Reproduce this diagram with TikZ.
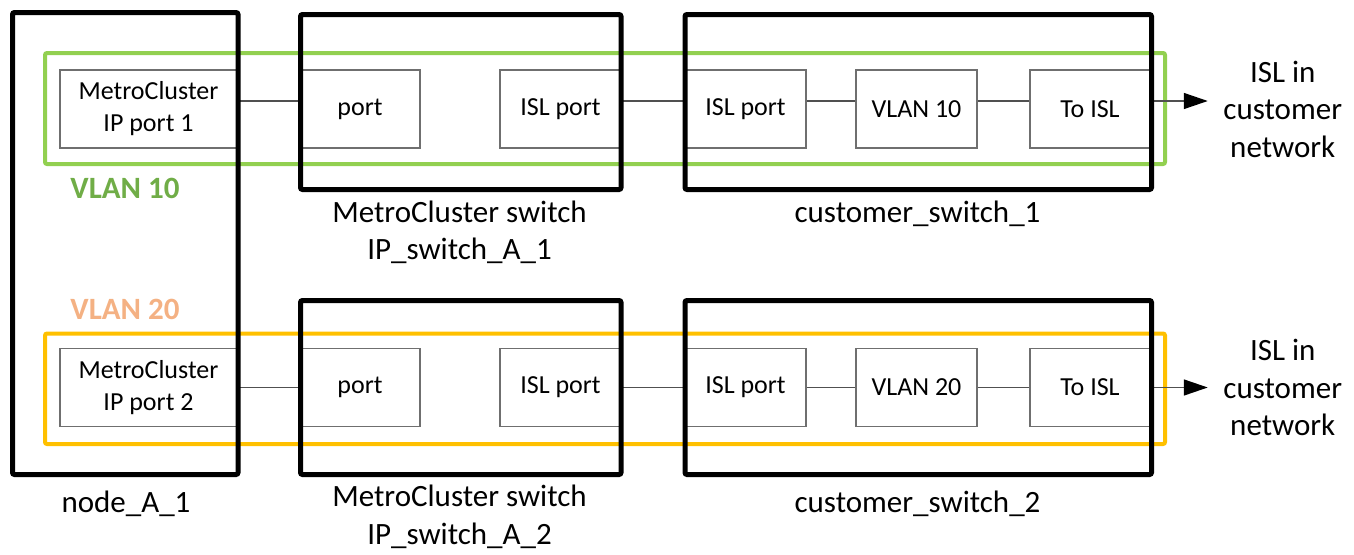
\documentclass[tikz,border=0pt]{standalone}
\usepackage{fontspec}
\setmainfont{Carlito}
\usetikzlibrary{arrows.meta}
\definecolor{vgreen}{HTML}{92D050}
\definecolor{vgreentext}{HTML}{70AD47}
\definecolor{vorange}{HTML}{FFC000}
\definecolor{vorangetext}{HTML}{F4B183}
\definecolor{boxgrey}{HTML}{6F6F6F}
\definecolor{linkgrey}{HTML}{505050}
\tikzset{
  portbox/.style={draw=boxgrey, line width=1.5, minimum height=78, inner sep=0,
    align=center, font=\fontsize{26}{32}\selectfont},
  devbox/.style={draw, line width=5, rounded corners=2},
  vlanbox/.style={line width=4, rounded corners=2},
  link/.style={draw=linkgrey, line width=1.5},
  caption/.style={anchor=base, align=center, inner sep=0, font=\fontsize{31}{37.5}\selectfont},
  vlanlabel/.style={anchor=base, inner sep=0, font=\fontsize{31}{37.5}\selectfont\bfseries}
}
\begin{document}
\begin{tikzpicture}[x=1pt,y=-1pt]
  \useasboundingbox (0,0) rectangle (1354,554);
  % vlan frames
  \draw [vlanbox, vgreen] (45,53) rectangle (1165,164);
  \draw [vlanbox, vorange] (45,333.5) rectangle (1165,444);
  % one row of ports per vlan
  \foreach \r/\yc/\s/\v in {1/109/8/10, 2/387.5/0/20} {
    \node [portbox, minimum width=177] (ip\r) at (148.5,\yc) {MetroCluster\\IP port \r};
    \node [portbox, minimum width=120] (port\r) at (360,\yc) {port};
    \node [portbox, minimum width=121] (swisl\r) at (560.5,\yc) {ISL port};
    \node [portbox, minimum width=121] (cuisl\r) at (745.5,\yc) {ISL port};
    \node [portbox, minimum width=121] (vlan\r) at (916.5,\yc) {VLAN \v};
    \node [portbox, minimum width=120] (toisl\r) at (1090,\yc) {To ISL};
    \coordinate (tip\r) at ([xshift=57]toisl\r.east);
    \node [caption, anchor=center] (net\r) at ([xshift=75]tip\r) {ISL in\\customer\\network};
    \draw [link] ([yshift=\s]ip\r.east) -- ([yshift=\s]port\r.west);
    \draw [link] ([yshift=\s]swisl\r.east) -- ([yshift=\s]cuisl\r.west);
    \draw [link] ([yshift=\s]cuisl\r.east) -- ([yshift=\s]vlan\r.west);
    \draw [link] ([yshift=\s]vlan\r.east) -- ([yshift=\s]toisl\r.west);
    \draw [link, -{Triangle[length=24,width=16,color=black]}] ([yshift=\s]toisl\r.east) -- ([yshift=\s]tip\r);
  }
  % devices
  \draw [devbox] (12.5,12.5) rectangle (238,474.5);
  \draw [devbox] (300.5,14.5) rectangle (621,189.5);
  \draw [devbox] (685,14.5) rectangle (1151.5,189.5);
  \draw [devbox] (300.5,300.5) rectangle (621,474.5);
  \draw [devbox] (685,300.5) rectangle (1151.5,474.5);
  % labels (multi-line ones sit on their last line)
  \node [vlanlabel, vgreentext] (v10) at (125,198) {VLAN 10};
  \node [vlanlabel, vorangetext] (v20) at (125,319) {VLAN 20};
  \node [caption] (nodea) at (126,512) {node\_A\_1};
  \node [caption] (swa1) at (459.5,259.5) {MetroCluster switch\\IP\_switch\_A\_1};
  \node [caption] (swa2) at (459.5,544) {MetroCluster switch\\IP\_switch\_A\_2};
  \node [caption] (cs1) at (917.5,222) {customer\_switch\_1};
  \node [caption] (cs2) at (917.5,512) {customer\_switch\_2};
\end{tikzpicture}
\end{document}
